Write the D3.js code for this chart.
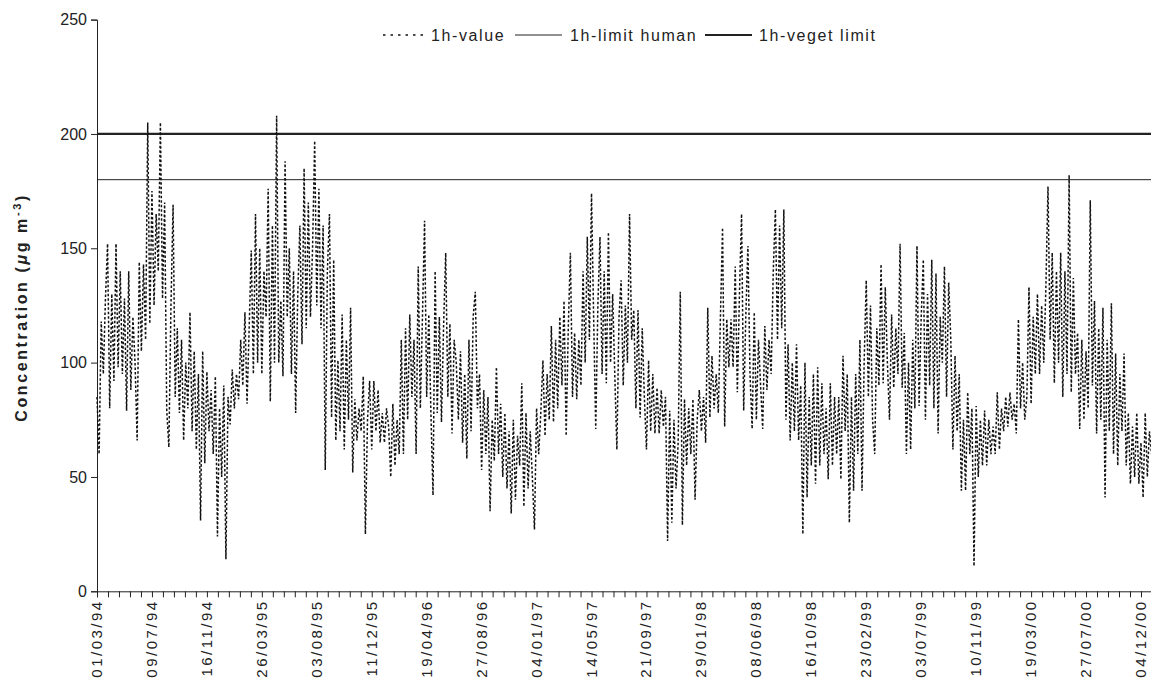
<!DOCTYPE html>
<html>
<head>
<meta charset="utf-8">
<script src="https://cdn.jsdelivr.net/npm/d3@7"></script>
<style>
  body { margin: 0; background: #fff; }
  text { font-family: "Liberation Sans", Arial, sans-serif; fill: #222; }
</style>
</head>
<body>
<div id="chart"></div>
<script>
// 1h ozone values, one reading every 5 days starting 01/03/94
var startDate = "1994-03-01";
var stepDays = 5;
var values = [
  85, 60, 118, 95, 128,  152, 80, 130, 92, 152,  98, 140, 95, 128, 79,  140, 88, 120, 100, 66,
  144, 105, 143, 110, 205,  117, 175, 125, 165, 140,  205, 128, 170, 79, 63,  125, 169, 85, 115, 78,
  110, 66, 100, 80, 122,  70, 105, 62, 95, 31,  105, 56, 96, 70, 88,  60, 94, 24, 80, 50,
  90, 14, 85, 73, 97,  80, 95, 84, 110, 90,  122, 82, 115, 149, 95,  165, 100, 150, 95, 140,
  120, 176, 83, 160, 100,  208, 100, 127, 94, 188,  120, 150, 95, 140, 78,  130, 160, 108, 185, 115,
  170, 120, 150, 197, 125,  176, 115, 160, 53, 140,  165, 76, 145, 66, 101,  70, 121, 62, 110, 75,
  124, 52, 84, 66, 80,  70, 94, 25, 75, 92,  62, 92, 70, 88, 65,  78, 65, 80, 72, 50,
  82, 55, 75, 60, 110,  60, 115, 75, 121, 85,  110, 60, 142, 80, 120,  162, 85, 121, 78, 42,
  140, 78, 120, 74, 116,  148, 85, 117, 69, 110,  100, 75, 105, 65, 95,  58, 110, 70, 120, 131,
  80, 95, 53, 88, 60,  85, 35, 75, 57, 98,  60, 82, 50, 78, 45,  70, 34, 75, 40, 68,
  55, 91, 37, 78, 45,  70, 50, 27, 80, 60,  78, 101, 68, 95, 75,  116, 74, 110, 80, 120,
  90, 127, 68, 115, 148,  85, 113, 84, 110, 90,  140, 100, 155, 110, 174,  120, 71, 125, 155, 95,
  140, 91, 157, 100, 130,  95, 62, 120, 136, 90,  125, 100, 165, 110, 123,  80, 123, 76, 115, 85,
  62, 101, 70, 95, 69,  89, 69, 88, 72, 85,  22, 79, 30, 75, 45,  65, 131, 29, 84, 55,
  80, 60, 84, 40, 75,  88, 70, 85, 65, 124,  76, 103, 80, 95, 78,  120, 159, 72, 119, 98,
  119, 98, 142, 87, 130,  165, 79, 120, 151, 95,  71, 122, 75, 110, 90,  71, 116, 88, 110, 95,
  140, 167, 110, 160, 115,  167, 75, 108, 66, 100,  70, 108, 66, 90, 25,  100, 41, 85, 55, 95,
  47, 98, 55, 91, 60,  80, 49, 91, 55, 85,  60, 85, 49, 103, 70,  95, 30, 85, 44, 95,
  60, 110, 44, 100, 136,  85, 125, 75, 60, 115,  90, 143, 91, 133, 100,  75, 121, 89, 115, 95,
  152, 89, 113, 60, 100,  62, 110, 80, 151, 81,  120, 145, 75, 130, 90,  145, 80, 139, 69, 120,
  100, 142, 85, 135, 110,  62, 103, 70, 95, 44,  75, 44, 87, 60, 80,  11, 81, 50, 75, 55,
  79, 55, 75, 60, 72,  60, 87, 62, 80, 70,  85, 72, 87, 75, 82,  69, 119, 80, 100, 75,
  85, 133, 82, 120, 95,  130, 95, 125, 100, 133,  177, 110, 148, 91, 140,  100, 148, 85, 140, 95,
  182, 87, 137, 95, 113,  71, 110, 75, 105, 80,  171, 90, 127, 69, 115,  75, 124, 41, 110, 70,
  126, 60, 104, 55, 95,  70, 104, 55, 78, 47,  72, 50, 78, 47, 65,  41, 78, 50, 70, 60
];

var limitHuman = 180;
var limitVeget = 200;

var yTicks = [0, 50, 100, 150, 200, 250];
var tickLabels = ["01/03/94", "09/07/94", "16/11/94", "26/03/95", "03/08/95", "11/12/95",
  "19/04/96", "27/08/96", "04/01/97", "14/05/97", "21/09/97", "29/01/98", "08/06/98",
  "16/10/98", "23/02/99", "03/07/99", "10/11/99", "19/03/00", "27/07/00", "04/12/00"];
var labelEveryDays = 130;
var minorEveryDays = 26;
var endDate = "2000-12-31";

var legendItems = ["1h-value", "1h-limit human", "1h-veget limit"];

////////////////basic layout//////////////////
var W = 1151, H = 690;
var margin = {top: 19.6, left: 97, bottom: 98.7};
var plotBottom = H - margin.bottom;

var svg = d3.select("#chart").append("svg")
    .attr("width", W)
    .attr("height", H);

var parse = d3.utcParse("%Y-%m-%d");
var t0 = parse(startDate);

var x = d3.scaleUtc()
    .domain([t0, parse(endDate)])
    .range([margin.left, 1152.4]);

var y = d3.scaleLinear()
    .domain([0, 250])
    .range([plotBottom, margin.top]);

// Y axis
var yAxis = svg.append("g")
    .attr("transform", "translate(" + margin.left + ",0)")
    .call(d3.axisLeft(y).tickValues(yTicks).tickSize(6).tickPadding(4));
yAxis.select(".domain").attr("stroke", "#222");
yAxis.selectAll(".tick line").attr("stroke", "#222");
yAxis.selectAll("text")
    .attr("font-size", "16px")
    .attr("fill", "#222")
    .style("font-family", "Liberation Sans, Arial, sans-serif");

// X axis: small ticks every 26 days, labels every 130 days
var minorTicks = d3.range(0, 2500, minorEveryDays).map(function(d) { return d3.utcDay.offset(t0, d); });
var xAxis = svg.append("g")
    .attr("transform", "translate(0," + plotBottom + ")")
    .call(d3.axisBottom(x).tickValues(minorTicks).tickSize(6).tickFormat(""));
xAxis.select(".domain").attr("stroke", "#222");
xAxis.selectAll(".tick line").attr("stroke", "#222");

svg.append("g").selectAll("text")
    .data(tickLabels)
    .enter()
    .append("text")
    .attr("transform", function(d, i) {
        var px = x(d3.utcDay.offset(t0, i * labelEveryDays));
        return "translate(" + (px + 5) + "," + (plotBottom + 8) + ") rotate(-90)";
    })
    .attr("text-anchor", "end")
    .attr("font-size", "15px")
    .attr("letter-spacing", "2.5px")
    .text(function(d) { return d; });

// limit lines
svg.append("line")
    .attr("x1", margin.left).attr("x2", W)
    .attr("y1", y(limitHuman)).attr("y2", y(limitHuman))
    .attr("stroke", "#222").attr("stroke-width", 1);
svg.append("line")
    .attr("x1", margin.left).attr("x2", W)
    .attr("y1", y(limitVeget)).attr("y2", y(limitVeget))
    .attr("stroke", "#222").attr("stroke-width", 2.2);

// 1h values (dotted)
var line = d3.line()
    .x(function(d, i) { return x(d3.utcDay.offset(t0, i * stepDays)); })
    .y(function(d) { return y(d); });

svg.append("path")
    .datum(values)
    .attr("d", line)
    .attr("fill", "none")
    .attr("stroke", "#111")
    .attr("stroke-width", 1.5)
    .attr("stroke-dasharray", "2.5,2");

// y label
var ylab = svg.append("text")
    .attr("transform", "translate(27," + ((plotBottom + margin.top) / 2 + 2) + ") rotate(-90)")
    .attr("text-anchor", "middle")
    .attr("font-size", "16px")
    .attr("letter-spacing", "2.6px")
    .attr("font-weight", "bold");
ylab.append("tspan").text("Concentration (");
ylab.append("tspan").attr("font-style", "italic").text("\u03bc");
ylab.append("tspan").text("g m");
ylab.append("tspan").attr("dy", -6).attr("font-size", "11px").text("-3");
ylab.append("tspan").attr("dy", 6).text(")");

// legend
var leg = svg.append("g").attr("transform", "translate(0,35)");
leg.append("line").attr("x1", 383).attr("x2", 428).attr("y1", 0).attr("y2", 0)
    .attr("stroke", "#111").attr("stroke-width", 1.6).attr("stroke-dasharray", "2.5,5");
leg.append("line").attr("x1", 515).attr("x2", 562).attr("y1", 0).attr("y2", 0)
    .attr("stroke", "#222").attr("stroke-width", 1);
leg.append("line").attr("x1", 705).attr("x2", 752).attr("y1", 0).attr("y2", 0)
    .attr("stroke", "#222").attr("stroke-width", 2.2);
var legX = [431, 570, 759];
leg.selectAll("text.lg")
    .data(legendItems)
    .enter()
    .append("text")
    .attr("class", "lg")
    .attr("x", function(d, i) { return legX[i]; })
    .attr("y", 6)
    .attr("font-size", "16px")
    .attr("letter-spacing", "1.6px")
    .text(function(d) { return d; });
</script>
</body>
</html>
